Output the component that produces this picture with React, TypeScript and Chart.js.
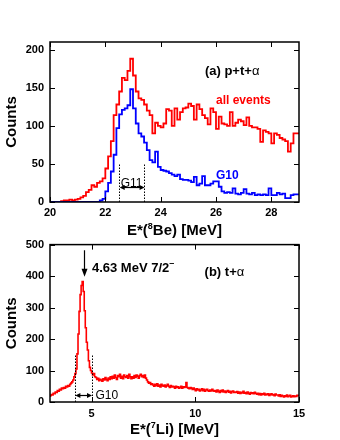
import React, { useEffect, useRef } from "react";
import { Chart, registerables } from "chart.js";

Chart.register(...registerables);

// ---------- DATA ----------
// Panel (a): E*(8Be) histogram, 0.1 MeV bins starting at 20.0 MeV
const topBinStart = 20.0;
const topBinWidth = 0.1;
const topAllEvents = [
  0, 0, 0, 0, 0, 1, 2, 2, 3, 2,
  3, 4, 6, 8, 13, 16, 22, 20, 25, 27,
  31, 44, 60, 80, 114, 128, 145, 163, 160, 172,
  188, 166, 145, 136, 134, 128, 120, 114, 90, 104,
  100, 98, 103, 122, 120, 100, 123, 108, 118, 123,
  124, 129, 126, 108, 128, 122, 114, 110, 102, 123,
  118, 96, 112, 103, 102, 100, 118, 100, 104, 108,
  106, 101, 111, 100, 98, 98, 96, 79, 94, 92,
  90, 77, 90, 88, 84, 82, 80, 66, 77, 90,
];
const topG10 = [
  0, 0, 0, 0, 0, 0, 0, 0, 0, 0,
  0, 0, 0, 0, 0, 0, 0, 0, 0, 2,
  4, 14, 25, 40, 62, 97, 115, 121, 123, 127,
  148, 123, 103, 90, 86, 78, 68, 55, 52, 66,
  46, 42, 41, 40, 38, 36, 34, 36, 30, 29,
  29, 28, 26, 33, 22, 24, 34, 22, 22, 24,
  27, 27, 20, 14, 12, 13, 12, 18, 11, 10,
  12, 17, 11, 10, 12, 9, 10, 9, 10, 9,
  18, 9, 9, 12, 10, 11, 5, 5, 9, 10,
];
const topXRange = [20, 29];
const topYRange = [0, 210];
const topXTicks = [20, 22, 24, 26, 28];
const topYTicks = [0, 50, 100, 150, 200];
const topG11Window = [22.5, 23.4];

// Panel (b): E*(7Li) histogram, 0.05 MeV bins starting at 3.0 MeV
const botBinStart = 3.0;
const botBinWidth = 0.05;
const botTAlpha = [
  16, 20, 24, 22, 28, 26, 32, 30, 36, 34, 40, 38, 44, 42, 46, 44, 50, 48, 52, 50,
  56, 60, 64, 70, 80, 90, 105, 153, 216, 288, 341, 370, 383, 351, 290, 236, 190, 165, 131, 110,
  100, 92, 86, 90, 80, 78, 72, 75, 68, 72, 70, 66, 74, 70, 78, 72, 68, 76, 72, 80,
  74, 82, 76, 86, 78, 72, 84, 80, 88, 76, 82, 74, 86, 80, 78, 84, 76, 88, 80, 74,
  80, 76, 84, 78, 86, 82, 76, 84, 88, 80, 84, 78, 86, 76, 70, 64, 60, 62, 56, 58,
  54, 50, 56, 52, 58, 50, 54, 48, 56, 52, 50, 54, 48, 52, 56, 50, 46, 52, 48, 50,
  48, 44, 50, 46, 48, 44, 46, 50, 44, 48, 46, 48, 62, 46, 44, 42, 46, 44, 40, 44,
  40, 36, 42, 38, 40, 35, 38, 42, 36, 40, 34, 38, 40, 36, 34, 38, 35, 40, 36, 34,
  36, 32, 38, 34, 30, 36, 33, 38, 32, 35, 30, 34, 36, 31, 34, 29, 33, 35, 30, 32,
  30, 33, 28, 32, 27, 31, 29, 34, 28, 30, 26, 32, 28, 25, 30, 27, 29, 26, 31, 28,
  25, 28, 23, 27, 22, 26, 24, 28, 22, 25, 23, 26, 21, 24, 26, 22, 24, 20, 25, 22,
  22, 19, 23, 18, 21, 19, 16, 20, 18, 22, 17, 19, 21, 16, 18, 20, 17, 19, 18, 21,
];
const botXRange = [3, 15];
const botYRange = [0, 500];
const botXTicks = [5, 10, 15];
const botYTicks = [0, 100, 200, 300, 400, 500];
const botG10Window = [4.2, 5.0];
const peakEnergy = 4.63;

// ---------- STYLE ----------
const FAMILY = "'Liberation Sans', Arial, Helvetica, sans-serif";
const RED = "#ff0000";
const BLUE = "#0000ff";
const fnt = (size: number, bold = true) => `${bold ? "bold " : ""}${size}px ${FAMILY}`;

function histPoints(start: number, width: number, values: number[]) {
  const pts = values.map((v, i) => ({ x: start + i * width, y: v }));
  pts.push({ x: start + values.length * width, y: values[values.length - 1] });
  return pts;
}

type Run = { t: string; size: number; bold?: boolean; rise?: number };
function drawRuns(ctx: CanvasRenderingContext2D, runs: Run[], x: number, y: number, align: "left" | "center") {
  const widths = runs.map((r) => {
    ctx.font = fnt(r.size, r.bold !== false);
    return ctx.measureText(r.t).width;
  });
  const total = widths.reduce((a, b) => a + b, 0);
  let cx = align === "center" ? x - total / 2 : x;
  ctx.textAlign = "left";
  runs.forEach((r, i) => {
    ctx.font = fnt(r.size, r.bold !== false);
    ctx.fillText(r.t, cx, y - (r.rise || 0));
    cx += widths[i];
  });
}

function arrowHead(ctx: CanvasRenderingContext2D, tx: number, ty: number, dx: number, dy: number, len: number, half: number) {
  const bx = tx - dx * len;
  const by = ty - dy * len;
  ctx.beginPath();
  ctx.moveTo(tx, ty);
  ctx.lineTo(bx - dy * half, by + dx * half);
  ctx.lineTo(bx + dy * half, by - dx * half);
  ctx.closePath();
  ctx.fill();
}

function makeFrame(xTicks: number[], yTicks: number[]) {
  return {
    id: "frame",
    afterDatasetsDraw(chart: any) {
      const { ctx, chartArea: a, scales } = chart;
      ctx.save();
      ctx.strokeStyle = "#000";
      ctx.lineWidth = 1;
      const L = 5;
      ctx.beginPath();
      for (const v of xTicks) {
        const px = Math.round(scales.x.getPixelForValue(v)) + 0.5;
        ctx.moveTo(px, a.bottom);
        ctx.lineTo(px, a.bottom - L);
        ctx.moveTo(px, a.top);
        ctx.lineTo(px, a.top + L);
      }
      for (const v of yTicks) {
        const py = Math.round(scales.y.getPixelForValue(v)) + 0.5;
        ctx.moveTo(a.left, py);
        ctx.lineTo(a.left + L, py);
        ctx.moveTo(a.right, py);
        ctx.lineTo(a.right - L, py);
      }
      ctx.stroke();
      ctx.lineWidth = 1.5;
      ctx.strokeRect(a.left, a.top, a.right - a.left, a.bottom - a.top);
      ctx.restore();
    },
  };
}

function drawCounts(ctx: CanvasRenderingContext2D, a: any) {
  ctx.save();
  ctx.translate(12, (a.top + a.bottom) / 2);
  ctx.rotate(-Math.PI / 2);
  ctx.fillStyle = "#000";
  ctx.font = fnt(15);
  ctx.textAlign = "center";
  ctx.textBaseline = "middle";
  ctx.fillText("Counts", 0, 0);
  ctx.restore();
}

function drawWindow(ctx: CanvasRenderingContext2D, chart: any, win: number[], topVal: number, arrowVal: number) {
  const { x, y } = chart.scales;
  const x1 = x.getPixelForValue(win[0]);
  const x2 = x.getPixelForValue(win[1]);
  const y0 = y.getPixelForValue(0);
  const yt = y.getPixelForValue(topVal);
  const ya = Math.round(y.getPixelForValue(arrowVal)) + 0.5;
  ctx.save();
  ctx.strokeStyle = "#000";
  ctx.fillStyle = "#000";
  ctx.lineWidth = 1;
  ctx.setLineDash([1.5, 1.5]);
  ctx.beginPath();
  ctx.moveTo(Math.round(x1) + 0.5, y0);
  ctx.lineTo(Math.round(x1) + 0.5, yt);
  ctx.moveTo(Math.round(x2) + 0.5, y0);
  ctx.lineTo(Math.round(x2) + 0.5, yt);
  ctx.stroke();
  ctx.setLineDash([]);
  ctx.lineWidth = 1.2;
  ctx.beginPath();
  ctx.moveTo(x1 + 2, ya);
  ctx.lineTo(x2 - 2, ya);
  ctx.stroke();
  arrowHead(ctx, x1 + 0.5, ya, -1, 0, 5, 2.5);
  arrowHead(ctx, x2 + 0.5, ya, 1, 0, 5, 2.5);
  ctx.restore();
  return { x1, x2, ya };
}

const topAnnotations = {
  id: "topAnn",
  afterDraw(chart: any) {
    const { ctx, chartArea: a, scales } = chart;
    const { x, y } = scales;
    ctx.save();
    ctx.fillStyle = "#000";
    ctx.textBaseline = "middle";
    drawRuns(ctx, [{ t: "(a) p+t+", size: 13 }, { t: "α", size: 13, bold: false }], x.getPixelForValue(25.6), y.getPixelForValue(172), "left");
    ctx.fillStyle = RED;
    drawRuns(ctx, [{ t: "all events", size: 12 }], x.getPixelForValue(26.0), y.getPixelForValue(133), "left");
    ctx.fillStyle = BLUE;
    drawRuns(ctx, [{ t: "G10", size: 12 }], x.getPixelForValue(26.0), y.getPixelForValue(35), "left");
    const w = drawWindow(ctx, chart, topG11Window, 50, 20);
    ctx.fillStyle = "#000";
    ctx.textBaseline = "alphabetic";
    drawRuns(ctx, [{ t: "G11", size: 12, bold: false }], (w.x1 + w.x2) / 2, w.ya - 1, "center");
    drawRuns(
      ctx,
      [{ t: "E*(", size: 15 }, { t: "8", size: 9, rise: 6 }, { t: "Be) [MeV]", size: 15 }],
      (a.left + a.right) / 2,
      235,
      "center"
    );
    drawCounts(ctx, a);
    ctx.restore();
  },
};

const botAnnotations = {
  id: "botAnn",
  afterDraw(chart: any) {
    const { ctx, chartArea: a, scales } = chart;
    const { x, y } = scales;
    ctx.save();
    ctx.fillStyle = "#000";
    ctx.strokeStyle = "#000";
    const px = Math.round(x.getPixelForValue(peakEnergy)) + 0.5;
    const yTop = y.getPixelForValue(482);
    const yTip = y.getPixelForValue(398);
    ctx.lineWidth = 1.2;
    ctx.beginPath();
    ctx.moveTo(px, yTop);
    ctx.lineTo(px, yTip - 5);
    ctx.stroke();
    arrowHead(ctx, px, yTip, 0, 1, 8, 3);
    ctx.textBaseline = "middle";
    drawRuns(
      ctx,
      [{ t: "4.63 MeV 7/2", size: 13 }, { t: "–", size: 9, rise: 5 }],
      x.getPixelForValue(5.02),
      y.getPixelForValue(425),
      "left"
    );
    drawRuns(ctx, [{ t: "(b) t+", size: 13 }, { t: "α", size: 13, bold: false }], x.getPixelForValue(10.45), y.getPixelForValue(413), "left");
    const w = drawWindow(ctx, chart, botG10Window, 152, 21);
    ctx.fillStyle = "#000";
    drawRuns(ctx, [{ t: "G10", size: 12, bold: false }], w.x2 + 4, w.ya, "left");
    ctx.textBaseline = "alphabetic";
    drawRuns(
      ctx,
      [{ t: "E*(", size: 15 }, { t: "7", size: 9, rise: 6 }, { t: "Li) [MeV]", size: 15 }],
      (a.left + a.right) / 2,
      202,
      "center"
    );
    drawCounts(ctx, a);
    ctx.restore();
  },
};

function axisOpts(range: number[], ticks: number[], fixed: { width?: number; height?: number }, pad: number) {
  return {
    type: "linear" as const,
    min: range[0],
    max: range[1],
    grid: { display: false, drawTicks: false },
    border: { display: false },
    ticks: {
      color: "#000",
      font: { family: FAMILY, size: 11, weight: "bold" as const },
      padding: pad,
      autoSkip: false,
      maxRotation: 0,
    },
    afterBuildTicks: (s: any) => {
      s.ticks = ticks.map((v) => ({ value: v }));
    },
    afterFit: (s: any) => {
      if (fixed.width !== undefined) s.width = fixed.width;
      if (fixed.height !== undefined) s.height = fixed.height;
    },
  };
}

function histDataset(label: string, color: string, pts: { x: number; y: number }[], width: number) {
  return {
    label,
    data: pts,
    borderColor: color,
    borderWidth: width,
    stepped: "after" as const,
    pointRadius: 0,
    fill: false,
    tension: 0,
  };
}

export default function App() {
  const topRef = useRef<HTMLCanvasElement>(null);
  const botRef = useRef<HTMLCanvasElement>(null);

  useEffect(() => {
    const top = new Chart(topRef.current!, {
      type: "line",
      data: {
        datasets: [
          histDataset("G10", BLUE, histPoints(topBinStart, topBinWidth, topG10), 1.8),
          histDataset("all events", RED, histPoints(topBinStart, topBinWidth, topAllEvents), 1.8),
        ],
      },
      options: {
        animation: false,
        responsive: false,
        events: [],
        layout: { padding: { top: 42, right: 41, left: 0, bottom: 0 } },
        plugins: { legend: { display: false }, tooltip: { enabled: false } },
        scales: {
          x: axisOpts(topXRange, topXTicks, { height: 38 }, 4),
          y: axisOpts(topYRange, topYTicks, { width: 50 }, 6),
        },
      } as any,
      plugins: [makeFrame(topXTicks, topYTicks), topAnnotations],
    });
    const bot = new Chart(botRef.current!, {
      type: "line",
      data: {
        datasets: [histDataset("t+α", RED, histPoints(botBinStart, botBinWidth, botTAlpha), 1.6)],
      },
      options: {
        animation: false,
        responsive: false,
        events: [],
        layout: { padding: { top: 10, right: 41, left: 0, bottom: 0 } },
        plugins: { legend: { display: false }, tooltip: { enabled: false } },
        scales: {
          x: axisOpts(botXRange, botXTicks, { height: 38 }, 5),
          y: axisOpts(botYRange, botYTicks, { width: 50 }, 6),
        },
      } as any,
      plugins: [makeFrame(botXTicks, botYTicks), botAnnotations],
    });
    return () => {
      top.destroy();
      bot.destroy();
    };
  }, []);

  return (
    <div style={{ position: "fixed", left: 0, top: 0, width: 340, height: 440, background: "#fff" }}>
      <canvas ref={topRef} width={340} height={240} style={{ position: "absolute", left: 0, top: 0, width: 340, height: 240 }} />
      <canvas ref={botRef} width={340} height={208} style={{ position: "absolute", left: 0, top: 232, width: 340, height: 208 }} />
    </div>
  );
}
